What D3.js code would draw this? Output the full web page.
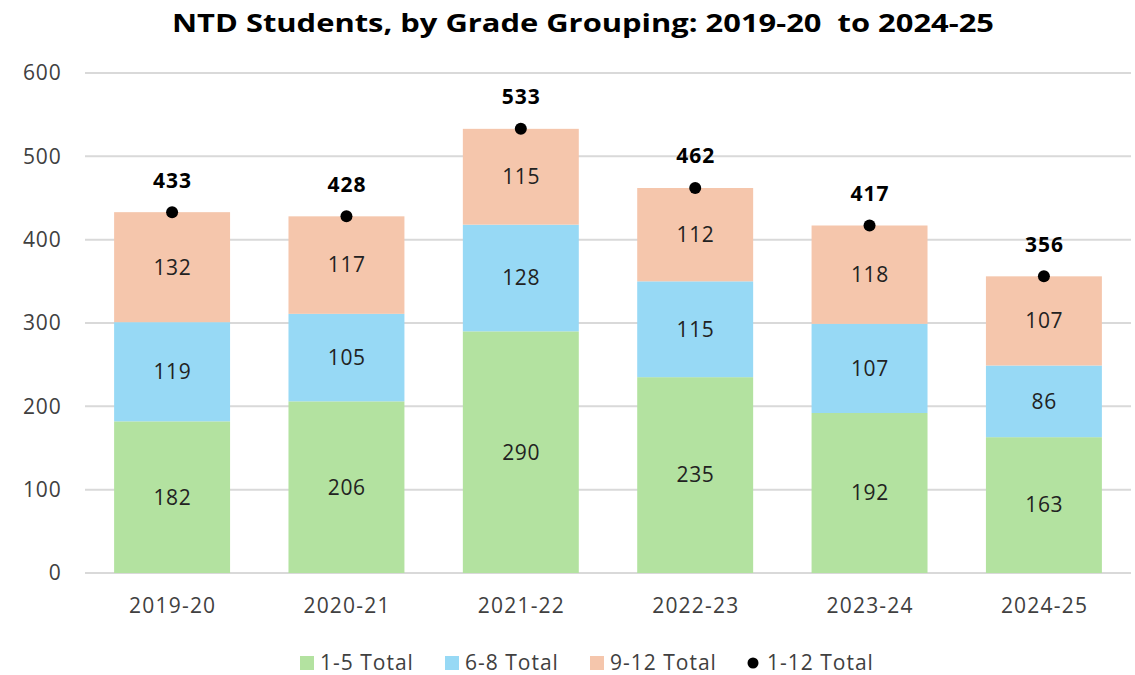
<!DOCTYPE html>
<html><head><meta charset="utf-8">
<script src="https://cdn.jsdelivr.net/npm/d3@7"></script>
<style>body{margin:0;background:#fff;} text{font-family:"Open Sans","Noto Sans",sans-serif;}</style>
</head><body><svg id="c" width="1135" height="675"></svg>
<script>
const categories = ["2019-20","2020-21","2021-22","2022-23","2023-24","2024-25"];
const grades1to5 = [182,206,290,235,192,163];
const grades6to8 = [119,105,128,115,107,86];
const grades9to12 = [132,117,115,112,118,107];
const totals = [433,428,533,462,417,356];
const seriesNames = ["1-5 Total","6-8 Total","9-12 Total"];
const totalName = "1-12 Total";
const yTicks = [0,100,200,300,400,500,600];
const colors = ["#b3e2a0","#97d9f5","#f5c6ac"];

const svg = d3.select("#c");
const x = d3.scaleBand().domain(categories).range([85,1131]).paddingInner(0.335).paddingOuter(0.167);
const y = d3.scaleLinear().domain([0,600]).range([573,73]);

svg.append("text").attr("x",583).attr("y",32).attr("text-anchor","middle")
  .attr("font-size",25).attr("font-weight","bold").attr("fill","#000")
  .style("white-space","pre")
  .attr("textLength",822).attr("lengthAdjust","spacingAndGlyphs")
  .text("NTD Students, by Grade Grouping: 2019-20  to 2024-25");

// gridlines
svg.append("g").selectAll("line").data(yTicks).join("line")
  .attr("x1",85).attr("x2",1131).attr("y1",d=>y(d)).attr("y2",d=>y(d))
  .attr("stroke","#d9d9d9").attr("stroke-width",2);

const yAxis = svg.append("g").attr("transform","translate(85,0)")
  .call(d3.axisLeft(y).tickValues(yTicks).tickSize(0).tickPadding(23.5));
yAxis.select(".domain").remove();
yAxis.selectAll("text").attr("font-size",21).attr("letter-spacing","0.8px").attr("fill","#404040").attr("font-family","'Open Sans',sans-serif");

const data = categories.map((c,i)=>({cat:c,"1-5 Total":grades1to5[i],"6-8 Total":grades6to8[i],"9-12 Total":grades9to12[i]}));
const stack = d3.stack().keys(seriesNames)(data);

const gs = svg.append("g").selectAll("g").data(stack).join("g").attr("fill",(d,i)=>colors[i]);
gs.selectAll("rect").data(d=>d).join("rect")
  .attr("x",d=>x(d.data.cat)).attr("width",x.bandwidth())
  .attr("y",d=>y(d[1])).attr("height",d=>y(d[0])-y(d[1]));

const lg = svg.append("g").selectAll("g").data(stack).join("g");
lg.selectAll("text").data(d=>d.map(v=>({v,val:v[1]-v[0]}))).join("text")
  .attr("x",d=>x(d.v.data.cat)+x.bandwidth()/2+0.3).attr("y",d=>y((d.v[0]+d.v[1])/2))
  .attr("dy","0.35em").attr("text-anchor","middle").attr("font-size",21).attr("letter-spacing","0.6px").attr("fill","#222")
  .text(d=>d.val);

// totals
svg.append("g").selectAll("circle").data(totals).join("circle")
  .attr("cx",(d,i)=>x(categories[i])+x.bandwidth()/2).attr("cy",d=>y(d)).attr("r",6).attr("fill","#000");
svg.append("g").selectAll("text").data(totals).join("text")
  .attr("x",(d,i)=>x(categories[i])+x.bandwidth()/2+0.5).attr("y",d=>y(d)-32).attr("dy","0.35em")
  .attr("text-anchor","middle").attr("font-size",21).attr("font-weight","bold").attr("letter-spacing","1px").attr("fill","#000")
  .text(d=>d);

// x axis
const xAxis = svg.append("g").attr("transform","translate(0,573)")
  .call(d3.axisBottom(x).tickSize(0).tickPadding(25));
xAxis.select(".domain").remove();
xAxis.selectAll("text").attr("font-size",21).attr("letter-spacing","1.2px").attr("fill","#404040").attr("font-family","'Open Sans',sans-serif").attr("dx","0.6px");

// legend
const legendItems = [
  {name:seriesNames[0],color:colors[0],type:"sq",x:300},
  {name:seriesNames[1],color:colors[1],type:"sq",x:445},
  {name:seriesNames[2],color:colors[2],type:"sq",x:590},
  {name:totalName,color:"#000",type:"dot",x:747}
];
const lgi = svg.append("g").selectAll("g").data(legendItems).join("g").attr("transform",d=>`translate(${d.x},663)`);
lgi.filter(d=>d.type==="sq").append("rect").attr("x",0).attr("y",-7).attr("width",14).attr("height",14).attr("fill",d=>d.color);
lgi.filter(d=>d.type==="dot").append("circle").attr("cx",6).attr("cy",0).attr("r",5.5).attr("fill","#000");
lgi.append("text").attr("x",20).attr("y",0).attr("dy","0.35em").attr("font-size",21).attr("letter-spacing","1px").attr("fill","#404040").text(d=>d.name);
</script></body></html>
